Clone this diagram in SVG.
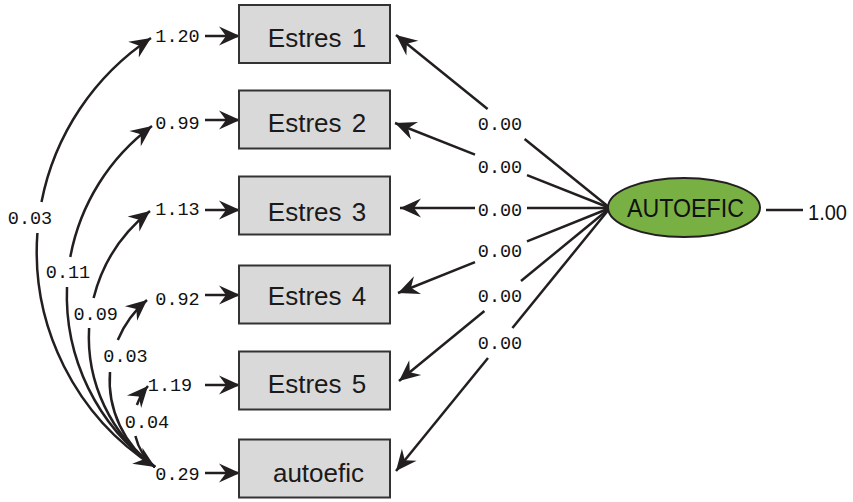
<svg xmlns="http://www.w3.org/2000/svg" width="853" height="502" viewBox="0 0 853 502">
<style>
.box{fill:#d9d9d9;stroke:#333333;stroke-width:2}
.bt{font-family:"Liberation Sans",Arial,sans-serif;font-size:26px;fill:#1a1a1a;text-anchor:middle;word-spacing:3px}
.num{font-family:"Liberation Mono","Courier New",monospace;font-size:18.5px;fill:#111;text-anchor:middle}
.ln{fill:none;stroke:#231f20;stroke-width:2.5}
</style>
<defs>
<marker id="ah" markerUnits="userSpaceOnUse" viewBox="-23 -11 24 22" refX="0" refY="0" markerWidth="24" markerHeight="22" orient="auto-start-reverse">
<path d="M0,0 L-21,-9.5 L-14,0 L-21,9.5 Z" fill="#231f20"/>
</marker>
</defs>
<rect width="853" height="502" fill="#ffffff"/>
<g id="connectors">
<!-- error arrows -->
<path class="ln" d="M205,36 L240,36" marker-end="url(#ah)"/>
<path class="ln" d="M205,120 L240,120" marker-end="url(#ah)"/>
<path class="ln" d="M205,210 L240,210" marker-end="url(#ah)"/>
<path class="ln" d="M205,295 L240,295" marker-end="url(#ah)"/>
<path class="ln" d="M205,385 L240,385" marker-end="url(#ah)"/>
<path class="ln" d="M205,473 L240,473" marker-end="url(#ah)"/>
<!-- loadings -->
<path class="ln" d="M610,208 L524.6,139"/><path class="ln" d="M487.6,109 L396,35" marker-end="url(#ah)"/>
<path class="ln" d="M610,208 L527,175.2"/><path class="ln" d="M475,154.6 L395,123" marker-end="url(#ah)"/>
<path class="ln" d="M610,208 L527,208"/><path class="ln" d="M475,208 L400,208" marker-end="url(#ah)"/>
<path class="ln" d="M610,208 L527,241.3"/><path class="ln" d="M475,262.1 L398,293" marker-end="url(#ah)"/>
<path class="ln" d="M610,208 L521,281"/><path class="ln" d="M484.4,311 L399,381" marker-end="url(#ah)"/>
<path class="ln" d="M610,208 L512.4,328"/><path class="ln" d="M488,358 L396,471" marker-end="url(#ah)"/>
<path class="ln" d="M766,210 L803,210"/>
<!-- covariances -->
<path class="ln" d="M151,38 A255.5,255.5 0 0,0 41.5,202" marker-start="url(#ah)"/>
<path class="ln" d="M37.4,233 A255.5,255.5 0 0,0 155,467" marker-end="url(#ah)"/>
<path class="ln" d="M152,126 A211,211 0 0,0 70.3,257" marker-start="url(#ah)"/>
<path class="ln" d="M67,287 A211,211 0 0,0 155,467"/>
<path class="ln" d="M150,211 A160.6,160.6 0 0,0 93.6,298" marker-start="url(#ah)"/>
<path class="ln" d="M89.1,328 A160.6,160.6 0 0,0 155,467"/>
<path class="ln" d="M147,300 A105.4,105.4 0 0,0 117.8,340" marker-start="url(#ah)"/>
<path class="ln" d="M110,372 A105.4,105.4 0 0,0 155,467"/>
<path class="ln" d="M148,386 A56.2,56.2 0 0,0 136.9,405" marker-start="url(#ah)"/>
<path class="ln" d="M135.4,436 A56.2,56.2 0 0,0 155,467"/>
</g>
<g id="labels">
<text class="num" x="177.5" y="42">1.20</text>
<text class="num" x="177.5" y="129">0.99</text>
<text class="num" x="177.5" y="215">1.13</text>
<text class="num" x="177.5" y="305">0.92</text>
<text class="num" x="170" y="390.5">1.19</text>
<text class="num" x="177.5" y="480">0.29</text>
<text class="num" x="500" y="130">0.00</text>
<text class="num" x="500" y="173">0.00</text>
<text class="num" x="500" y="215.5">0.00</text>
<text class="num" x="500" y="257">0.00</text>
<text class="num" x="500" y="301.5">0.00</text>
<text class="num" x="500" y="349">0.00</text>
<text class="num" x="30" y="224">0.03</text>
<text class="num" x="68" y="278.3">0.11</text>
<text class="num" x="95.7" y="320">0.09</text>
<text class="num" x="125.5" y="361.7">0.03</text>
<text class="num" x="147" y="428.3">0.04</text>
<text x="808" y="220" font-family="Liberation Sans, Arial, sans-serif" font-size="22" fill="#111" textLength="39" lengthAdjust="spacingAndGlyphs">1.00</text>
</g>
<g id="estres1"><rect class="box" x="239" y="5" width="151" height="58"/><text class="bt" x="317" y="46.5">Estres 1</text></g>
<g id="estres2"><rect class="box" x="239" y="90.5" width="151" height="58"/><text class="bt" x="317" y="131.5">Estres 2</text></g>
<g id="estres3"><rect class="box" x="239" y="176.5" width="151" height="58"/><text class="bt" x="317" y="220.5">Estres 3</text></g>
<g id="estres4"><rect class="box" x="239" y="265.5" width="151" height="58"/><text class="bt" x="317" y="305">Estres 4</text></g>
<g id="estres5"><rect class="box" x="239" y="351.5" width="151" height="58"/><text class="bt" x="317" y="393">Estres 5</text></g>
<g id="autoefic-box"><rect class="box" x="239" y="439.5" width="151" height="58"/><text class="bt" x="318.5" y="481.5">autoefic</text></g>
<g id="AUTOEFIC"><ellipse cx="684" cy="207.5" rx="76" ry="29.5" fill="#78b043" stroke="#231f20" stroke-width="2"/><text x="685.5" y="216.5" font-family="Liberation Sans, Arial, sans-serif" font-size="25" fill="#111" text-anchor="middle" textLength="117" lengthAdjust="spacingAndGlyphs">AUTOEFIC</text></g>
</svg>
